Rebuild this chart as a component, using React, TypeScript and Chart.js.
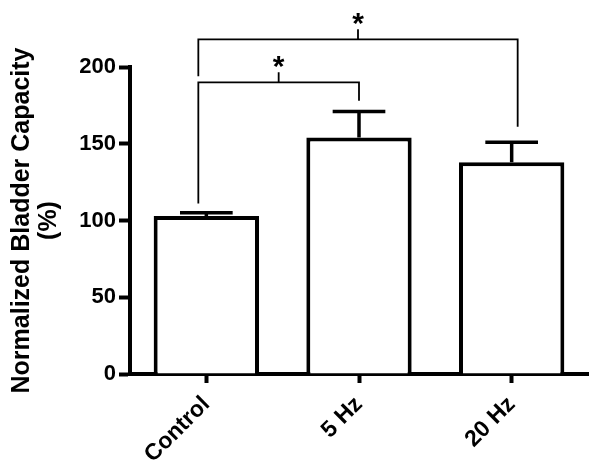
import React, { useEffect, useRef } from 'react';
import { Chart, registerables } from 'chart.js';

Chart.register(...registerables);

const categories = ['Control', '5 Hz', '20 Hz'];
const means = [103, 154, 138];
const sems = [2, 17, 13];
const yMin = 0;
const yMax = 200;
const yStep = 50;
const yTitle = ['Normalized Bladder Capacity', '(%)'];
// significance brackets: categories joined, bracket level, end levels of the legs
const bracketFrom = [0, 0];
const bracketTo = [1, 2];
const bracketLevel = [190, 218];
const bracketFromEnd = [111, 194];
const bracketToEnd = [178, 161];
const bracketLabel = ['*', '*'];

const FONT = '"Liberation Sans", Arial, Helvetica, sans-serif';

const errorBarPlugin = {
  id: 'errorBars',
  afterDatasetsDraw(chart: any) {
    const meta = chart.getDatasetMeta(0);
    const y = chart.scales.y;
    const ctx = chart.ctx;
    ctx.save();
    ctx.strokeStyle = '#000';
    ctx.lineWidth = 3.5;
    meta.data.forEach((bar: any, i: number) => {
      const top = y.getPixelForValue(means[i] + sems[i]);
      const base = y.getPixelForValue(means[i]);
      const half = bar.width * 0.25;
      ctx.beginPath();
      ctx.moveTo(bar.x, base);
      ctx.lineTo(bar.x, top);
      ctx.moveTo(bar.x - half, top);
      ctx.lineTo(bar.x + half, top);
      ctx.stroke();
    });
    ctx.restore();
  },
};

const bracketPlugin = {
  id: 'brackets',
  afterDraw(chart: any) {
    const meta = chart.getDatasetMeta(0);
    const y = chart.scales.y;
    const ctx = chart.ctx;
    const n = categories.length;
    ctx.save();
    ctx.strokeStyle = '#000';
    ctx.fillStyle = '#000';
    ctx.lineWidth = 1.8;
    bracketFrom.forEach((f, k) => {
      const t = bracketTo[k];
      const legOffset = (idx: number) => (idx === 0 ? -8 : idx === n - 1 ? 6 : 0);
      const x1 = meta.data[f].x + legOffset(f);
      const x2 = meta.data[t].x + legOffset(t);
      const yl = y.getPixelForValue(bracketLevel[k]);
      const y1 = y.getPixelForValue(bracketFromEnd[k]);
      const y2 = y.getPixelForValue(bracketToEnd[k]);
      const xm = (x1 + x2) / 2;
      ctx.beginPath();
      ctx.moveTo(x1, y1);
      ctx.lineTo(x1, yl);
      ctx.lineTo(x2, yl);
      ctx.lineTo(x2, y2);
      ctx.moveTo(xm, yl);
      ctx.lineTo(xm, yl - 10);
      ctx.stroke();
      ctx.font = 'bold 30px ' + FONT;
      ctx.textAlign = 'center';
      ctx.textBaseline = 'alphabetic';
      ctx.fillText(bracketLabel[k], xm, yl - 6);
    });
    ctx.restore();
  },
};

export default function App() {
  const ref = useRef<HTMLCanvasElement | null>(null);
  useEffect(() => {
    if (!ref.current) return;
    Chart.defaults.font.family = FONT;
    const chart = new Chart(ref.current, {
      type: 'bar',
      data: {
        labels: categories,
        datasets: [
          {
            data: means,
            backgroundColor: '#fff',
            borderColor: '#000',
            borderWidth: 4,
            barPercentage: 0.69,
            categoryPercentage: 1,
          },
        ],
      },
      options: {
        animation: false,
        responsive: false,
        devicePixelRatio: 1,
        layout: { padding: { top: 67, right: 12, left: 0, bottom: 0 } },
        plugins: { legend: { display: false }, tooltip: { enabled: false } },
        scales: {
          x: {
            type: 'category',
            grid: {
              display: true,
              drawOnChartArea: false,
              drawTicks: true,
              offset: false,
              tickLength: 9,
              tickWidth: 4,
              tickColor: '#000',
              color: '#000',
            },
            border: { display: true, color: '#000', width: 4 },
            ticks: {
              color: '#000',
              font: { size: 23, weight: 'bold', family: FONT },
              minRotation: 45,
              maxRotation: 45,
              padding: 8,
            },
            afterFit: (s: any) => {
              s.height = 93;
            },
          },
          y: {
            min: yMin,
            max: yMax,
            grid: {
              display: true,
              drawOnChartArea: false,
              drawTicks: true,
              tickLength: 11,
              tickWidth: 4,
              tickColor: '#000',
              color: '#000',
            },
            border: { display: true, color: '#000', width: 4 },
            ticks: {
              stepSize: yStep,
              color: '#000',
              font: { size: 22, weight: 'bold', family: FONT },
              padding: 3,
            },
            title: {
              display: true,
              text: yTitle,
              color: '#000',
              font: { size: 25, weight: 'bold', family: FONT, lineHeight: 1.1 },
              padding: { top: 8, bottom: 0 },
            },
            afterFit: (s: any) => {
              s.width = 130;
            },
          },
        },
      } as any,
      plugins: [errorBarPlugin, bracketPlugin],
    });
    return () => chart.destroy();
  }, []);
  return (
    <div style={{ position: 'absolute', left: 0, top: 0, width: 600, height: 467, background: '#fff' }}>
      <canvas ref={ref} width={600} height={467} style={{ display: 'block' }} />
    </div>
  );
}
